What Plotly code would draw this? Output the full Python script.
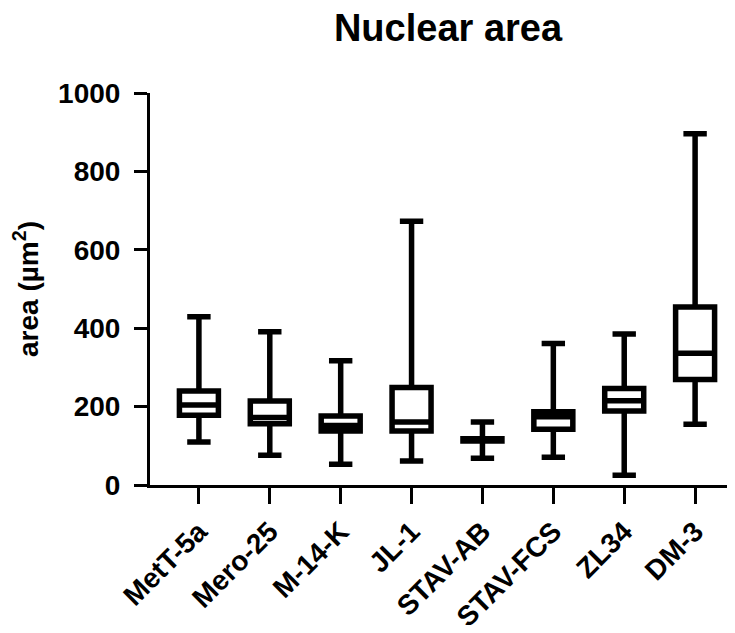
import plotly.graph_objects as go

categories = ["MetT-5a", "Mero-25", "M-14-K", "JL-1", "STAV-AB", "STAV-FCS", "ZL34", "DM-3"]
lower_whisker = [110, 76, 53, 61, 68, 71, 25, 155]
q1_values = [178, 156, 138, 138, 112, 142, 189, 269]
median_values = [204, 172, 152, 161, 115, 174, 215, 336]
q3_values = [240, 214, 176, 249, 118, 187, 246, 454]
upper_whisker = [429, 391, 317, 673, 161, 361, 385, 896]
y_ticks = [0, 200, 400, 600, 800, 1000]

FONT = "Liberation Sans, Arial, sans-serif"

fig = go.Figure()
fig.add_trace(go.Box(
    x=categories,
    q1=q1_values,
    median=median_values,
    q3=q3_values,
    lowerfence=lower_whisker,
    upperfence=upper_whisker,
    fillcolor="white",
    line=dict(color="black", width=5.5),
    whiskerwidth=0.6,
    boxpoints=False,
    hoverinfo="skip",
    showlegend=False,
))

# page body has an 8px default margin, so the figure is sized to fit the window
fig.update_layout(
    width=719,
    height=617,
    margin=dict(l=142, r=0, t=85, b=140),
    paper_bgcolor="white",
    plot_bgcolor="white",
    boxgap=0.45,
    boxgroupgap=0,
    font=dict(family=FONT, color="black"),
    title=dict(
        text="<b>Nuclear area</b>",
        font=dict(family=FONT, size=38, color="black"),
        x=440 / 719, xref="container", xanchor="center",
        y=1 - 20 / 617, yref="container", yanchor="middle",
    ),
    xaxis=dict(
        type="category",
        range=[-0.69, 7.45],
        automargin=False,
        showline=True, linecolor="black", linewidth=3,
        ticks="outside", ticklen=16, tickwidth=3, tickcolor="black",
        tickangle=-45,
        tickfont=dict(family=FONT, size=28, color="black", weight="bold"),
        showgrid=False, zeroline=False,
    ),
    yaxis=dict(
        range=[0, 1000],
        tickvals=y_ticks,
        automargin=False,
        showline=True, linecolor="black", linewidth=3,
        ticks="outside", ticklen=13, tickwidth=3, tickcolor="black",
        ticklabelstandoff=8,
        tickfont=dict(family=FONT, size=28, color="black", weight="bold"),
        showgrid=False, zeroline=False,
        title=dict(text="<b>area (µm<sup>2</sup>)</b>",
                   font=dict(family=FONT, size=28, color="black"),
                   standoff=14),
    ),
)

fig.write_html("out.html")
